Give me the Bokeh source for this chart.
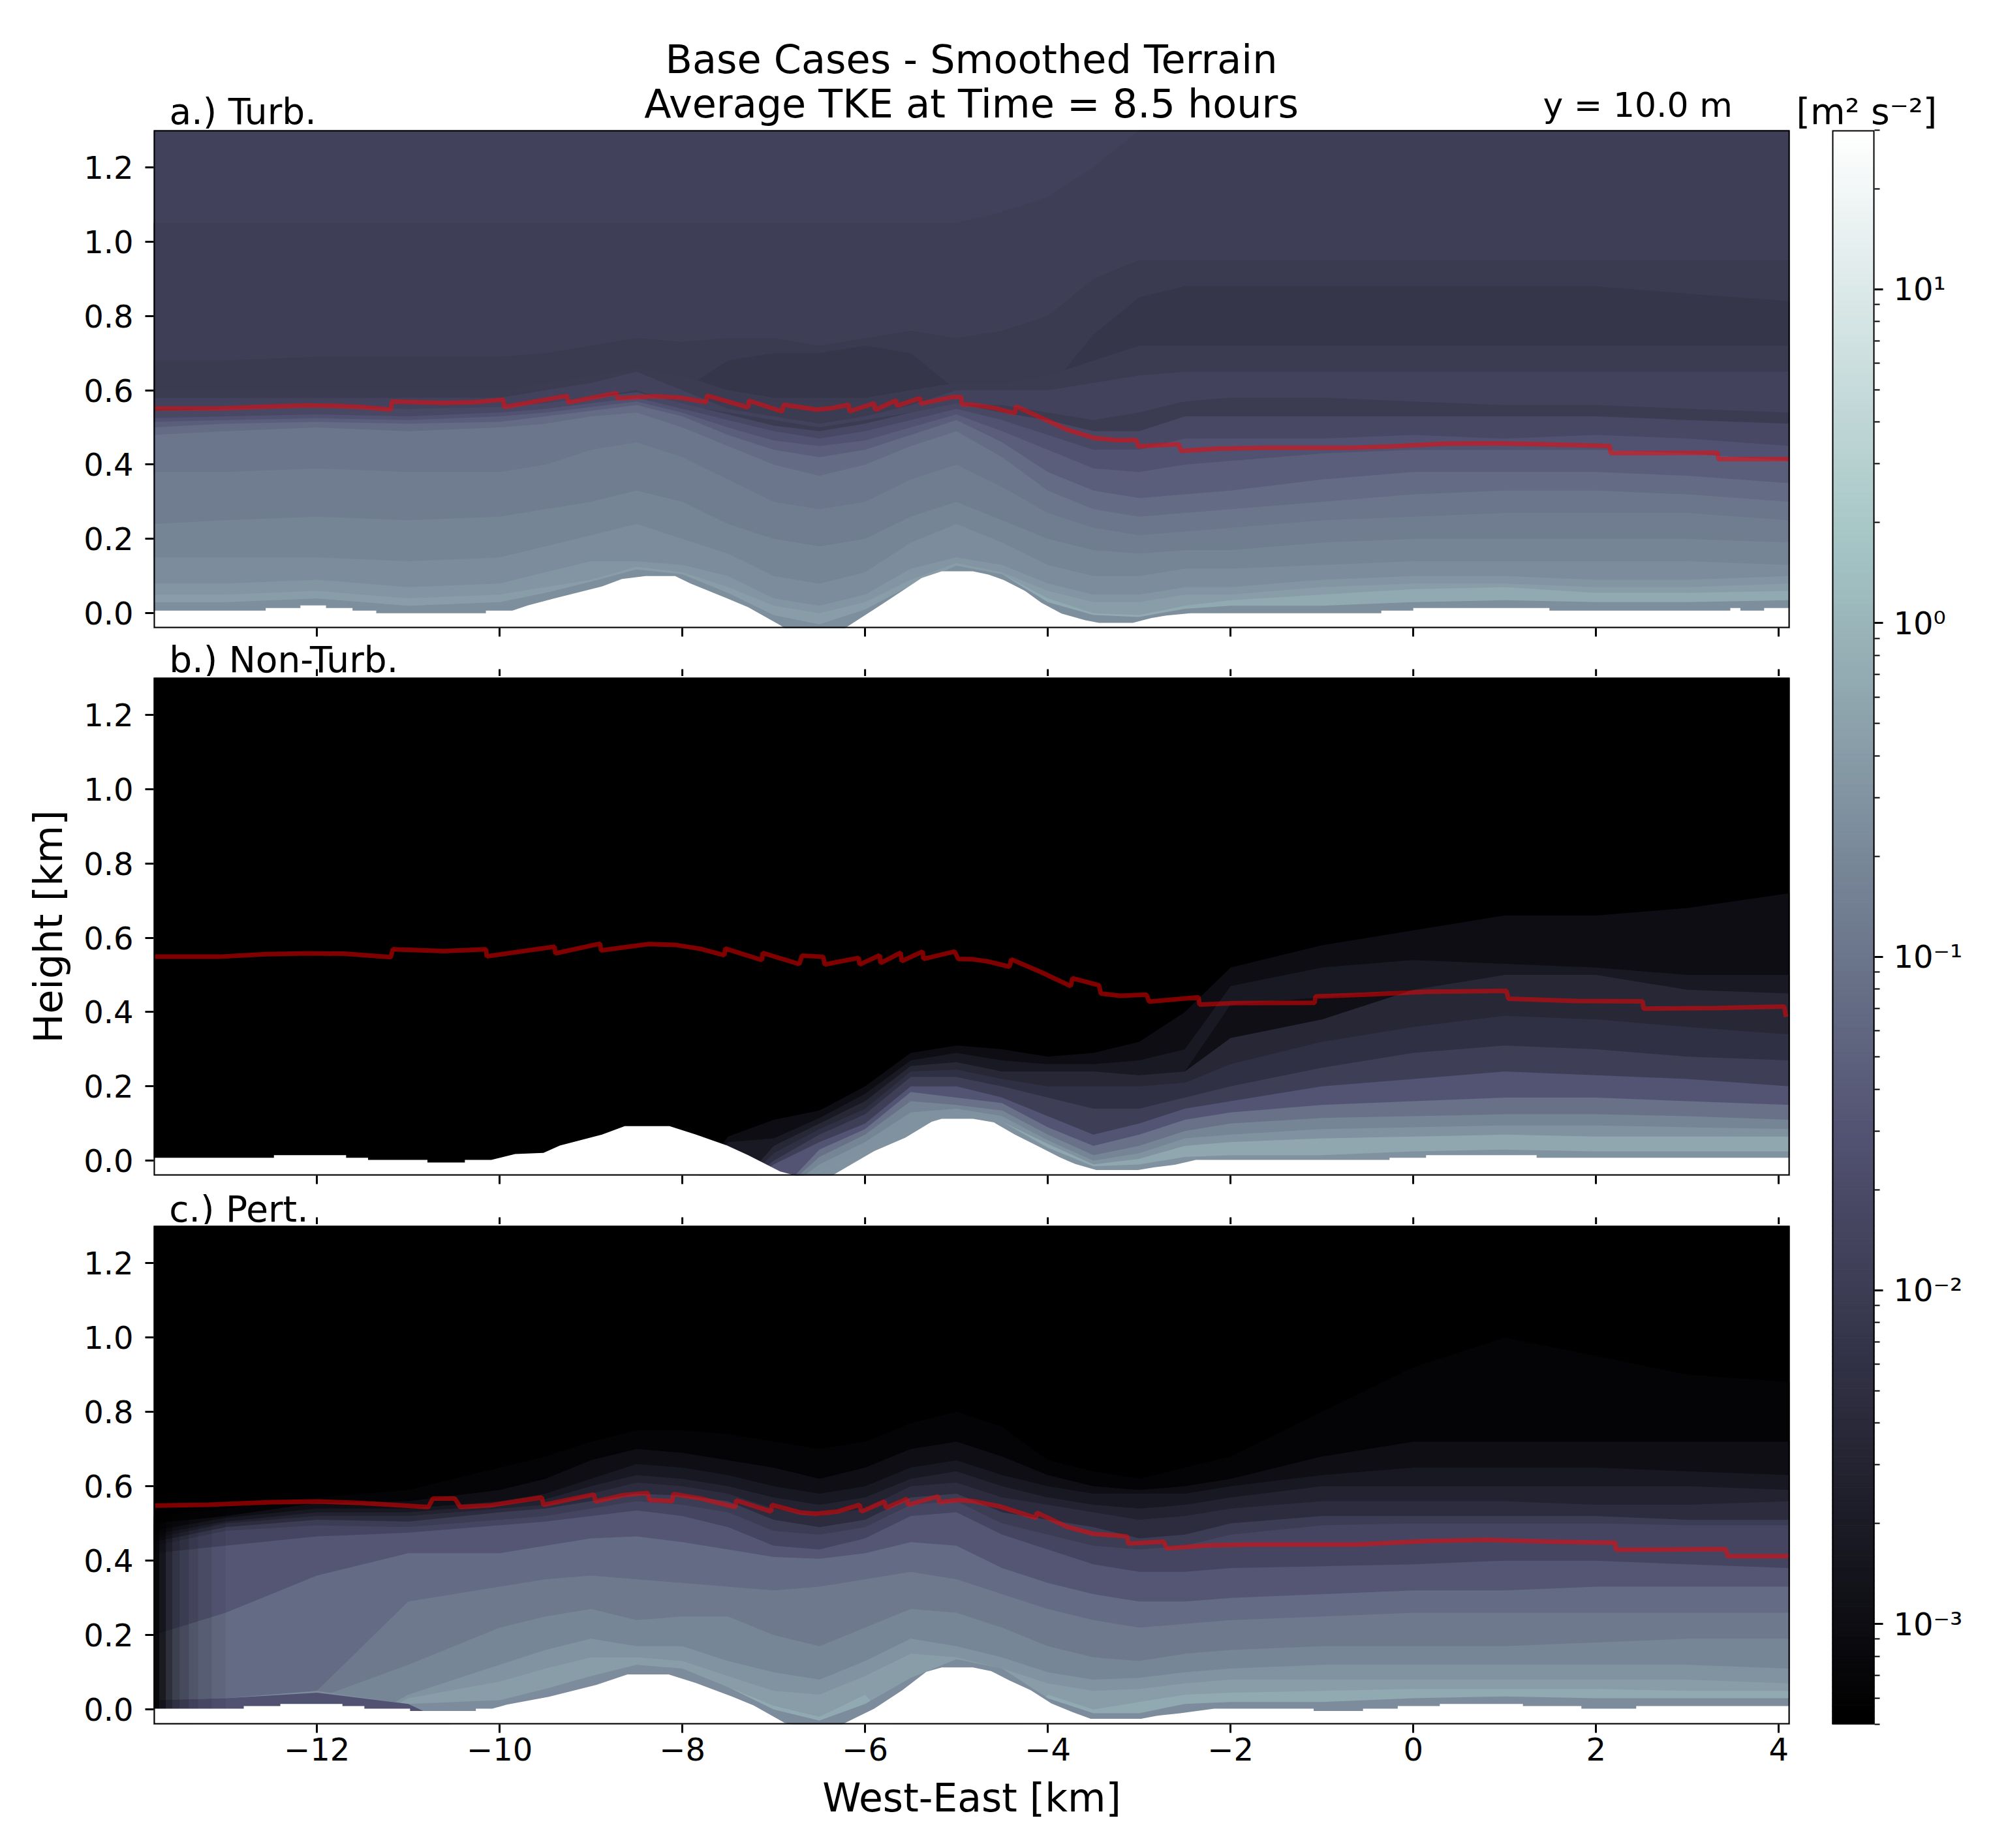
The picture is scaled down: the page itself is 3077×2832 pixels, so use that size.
from bokeh.plotting import figure
from bokeh.layouts import row, column
from bokeh.models import FixedTicker, PrintfTickFormatter, BasicTickFormatter, BoxAnnotation
from bokeh.core.properties import value
from bokeh.embed import file_html
from bokeh.resources import INLINE
import math
import numpy as np

TITLE1 = "Base Cases - Smoothed Terrain"
TITLE2 = "Average TKE at Time = 8.5 hours"
XTICKS = [-12, -10, -8, -6, -4, -2, 0, 2, 4]
YTICKS = [0.0, 0.2, 0.4, 0.6, 0.8, 1.0, 1.2]
CB_MAJOR = [1e-3, 1e-2, 1e-1, 1e0, 1e1]
CB_LABELS = ["10\u207b\u00b3", "10\u207b\u00b2", "10\u207b\u00b9", "10\u2070", "10\u00b9"]
VMIN, VMAX = 5e-4, 30.0

# the "bone" colour map: anchor stops per channel
_t = np.linspace(0, 1, 256)
_r = np.interp(_t, [0, .746032, 1], [0, .652778, 1])
_g = np.interp(_t, [0, .365079, .746032, 1], [0, .319444, .777778, 1])
_b = np.interp(_t, [0, .365079, 1], [0, .444444, 1])
BONE = ["#%02x%02x%02x" % (int(a * 255), int(b * 255), int(c * 255)) for a, b, c in zip(_r, _g, _b)]

# stations of the field tables (km)
XS = [-13.79, -13, -12, -11, -10, -9.5, -9, -8.5, -8, -7.5, -7, -6.5, -6, -5.5, -5, -4.5, -4, -3.5,
      -3, -2.5, -2, -1, 0, 1, 2, 3, 4.12]

# Panel a: (log10 TKE of the layer, ceiling height of that layer at each station), drawn top-down
A_BG = -1.9
A_VALUES = [-1.96, -2.05, -2.14, -2.02, -1.88, -2.03, -1.75, -1.55, -1.35, -1.15, -1.0, -0.88, -0.76, -0.64, -0.5, -0.38, -0.2, -0.6]
A_CEILS = [
 [1.05,1.05,1.05,1.05,1.05,1.05,1.05,1.05,1.05,1.05,1.05,1.05,1.05,1.05,1.05,1.08,1.12,1.2,1.3,1.3,1.3,1.3,1.3,1.3,1.3,1.3,1.3],
 [.68,.68,.69,.69,.69,.7,.72,.74,.73,.74,.74,.72,.74,.76,.74,.76,.8,.9,.95,.95,.95,.95,.95,.95,.95,.95,.95],
 [.55,.55,.55,.55,.55,.55,.56,.58,.6,.68,.7,.7,.72,.7,.6,.55,.6,.75,.85,.88,.88,.88,.88,.88,.88,.86,.84],
 [.6,.6,.6,.6,.6,.62,.64,.66,.64,.6,.58,.58,.58,.6,.62,.62,.64,.68,.72,.72,.72,.72,.72,.72,.72,.72,.72],
 [.58,.58,.58,.58,.58,.6,.62,.65,.6,.55,.53,.51,.53,.56,.6,.6,.6,.62,.64,.65,.65,.65,.65,.65,.65,.65,.65],
 [.55,.55,.55,.55,.55,.56,.58,.6,.56,.54,.52,.5,.52,.54,.56,.56,.54,.52,.54,.57,.58,.58,.57,.56,.56,.55,.54],
 [.545,.55,.555,.55,.555,.565,.58,.595,.565,.535,.505,.49,.51,.54,.565,.54,.52,.49,.49,.53,.53,.53,.53,.53,.53,.52,.51],
 [.525,.53,.535,.53,.54,.55,.565,.58,.55,.52,.49,.47,.49,.52,.55,.52,.48,.44,.44,.47,.47,.47,.48,.47,.48,.47,.45],
 [.515,.52,.525,.52,.53,.54,.555,.57,.54,.5,.465,.45,.465,.5,.535,.49,.44,.39,.38,.4,.41,.43,.44,.44,.44,.43,.41],
 [.5,.51,.515,.51,.515,.53,.545,.56,.53,.48,.44,.42,.44,.48,.52,.46,.38,.33,.31,.32,.33,.36,.38,.38,.38,.37,.35],
 [.48,.49,.5,.49,.5,.51,.53,.54,.5,.45,.4,.37,.4,.45,.49,.42,.33,.28,.26,.27,.28,.3,.32,.33,.33,.32,.3],
 [.38,.38,.39,.38,.38,.4,.44,.46,.42,.36,.3,.28,.3,.36,.4,.34,.27,.23,.21,.22,.23,.25,.26,.27,.27,.27,.25],
 [.24,.25,.26,.25,.26,.28,.3,.33,.3,.24,.2,.18,.2,.26,.3,.25,.2,.17,.16,.17,.17,.19,.2,.2,.2,.2,.19],
 [.15,.15,.15,.14,.15,.18,.21,.24,.2,.16,.1,.08,.11,.19,.24,.19,.13,.1,.1,.12,.12,.13,.14,.14,.14,.14,.13],
 [.08,.08,.09,.07,.08,.11,.14,.14,.13,.1,.04,.02,.05,.12,.15,.13,.08,.05,.05,.07,.07,.09,.1,.1,.09,.09,.1],
 [.05,.05,.06,.04,.05,.07,.09,.125,.11,.07,.02,.0,.03,.09,.135,.11,.06,.03,.03,.05,.05,.07,.08,.08,.07,.07,.08],
 [.03,.03,.04,.02,.03,.055,.085,.118,.105,.055,-.005,-.03,.01,.075,.128,.105,.04,0,-.005,.02,.035,.05,.065,.07,.055,.055,.06],
 [.03,.03,.04,.02,.03,.055,.085,.118,.105,.055,-.005,-.03,.01,.075,.128,.105,.03,-.005,-.01,.012,.02,.02,.03,.035,.03,.03,.035],
]

# Panel b
B_BG = -3.5
B_VALUES = [-3.0, -2.75, -2.95, -2.45, -2.25, -1.95, -1.5, -1.05, -0.75, -0.55, -0.22, -0.55]
B_CEILS = [
 [-.1]*9 + [.065,.11,.135,.2,.29,.31,.3,.28,.29,.32,.4,.52,.58,.62,.66,.66,.68,.72],
 [-.1]*9 + [.05,.06,.115,.18,.27,.29,.27,.26,.26,.27,.3,.47,.52,.54,.53,.52,.5,.5],
 [-.1]*19 + [.24,.42,.44,.46,-.1,-.1,-.1,-.1],
 [-.1]*10 + [.04,.1,.16,.255,.265,.24,.24,.24,.23,.24,.33,.38,.46,.5,.5,.46,.45],
 [-.1]*10 + [.02,.085,.14,.24,.245,.22,.2,.2,.2,.21,.26,.32,.36,.39,.38,.36,.34],
 [-.1]*10 + [.0,.07,.125,.225,.225,.2,.17,.14,.14,.17,.2,.25,.29,.31,.3,.28,.27],
 [-.1]*10 + [-.01,.05,.1,.2,.2,.17,.12,.07,.1,.14,.16,.2,.22,.24,.23,.22,.2],
 [-.1]*11 + [.03,.085,.185,.17,.155,.09,.04,.07,.11,.13,.15,.16,.17,.17,.16,.15],
 [-.1]*11 + [.01,.07,.16,.15,.135,.07,.015,.04,.08,.1,.115,.12,.125,.125,.12,.11],
 [-.1]*11 + [-.01,.05,.13,.14,.12,.055,0,.02,.06,.07,.085,.09,.095,.095,.09,.085],
 [-.1]*11 + [-.03,.02,.08,.13,.105,.045,-.01,.005,.04,.05,.06,.065,.07,.065,.065,.065],
 [-.1]*11 + [-.03,.02,.08,.13,.105,.035,-.015,-.01,.01,.015,.015,.025,.03,.025,.025,.025],
]

# Panel c
C_BG = -3.5
C_VALUES = [-3.2, -2.98, -2.76, -2.55, -2.34, -2.0, -1.8, -1.48, -1.15, -0.94, -0.73, -0.52, -0.38, -0.2, -0.65, -1.55]
C_CEILS = [
 [.52,.54,.57,.59,.65,.68,.72,.75,.75,.74,.72,.70,.72,.77,.8,.76,.67,.64,.62,.65,.68,.8,.92,1.0,.95,.9,.88],
 [.5,.52,.555,.56,.59,.62,.67,.7,.69,.67,.65,.62,.65,.7,.72,.68,.63,.6,.59,.6,.62,.68,.72,.72,.72,.72,.72],
 [.48,.515,.54,.54,.56,.58,.62,.66,.65,.63,.6,.58,.6,.65,.67,.63,.6,.58,.58,.58,.6,.63,.65,.65,.65,.64,.63],
 [.47,.505,.53,.53,.55,.565,.6,.63,.62,.6,.57,.55,.57,.62,.64,.6,.57,.55,.54,.55,.57,.6,.6,.6,.6,.6,.59],
 [.46,.5,.52,.52,.54,.55,.58,.61,.6,.58,.54,.52,.54,.6,.61,.57,.55,.53,.51,.52,.54,.56,.56,.56,.55,.55,.56],
 [.45,.49,.51,.505,.53,.54,.56,.58,.575,.56,.51,.49,.51,.57,.58,.53,.51,.49,.46,.47,.5,.52,.52,.52,.52,.51,.51],
 [.44,.48,.495,.49,.51,.52,.54,.56,.55,.53,.48,.47,.49,.55,.56,.5,.47,.44,.43,.44,.47,.495,.5,.5,.5,.495,.495],
 [.42,.44,.465,.475,.495,.505,.52,.535,.52,.49,.44,.43,.46,.52,.53,.47,.43,.39,.37,.37,.38,.385,.39,.4,.4,.39,.38],
 [.2,.26,.36,.42,.42,.44,.46,.465,.45,.43,.41,.405,.42,.45,.44,.38,.34,.31,.29,.29,.3,.31,.32,.32,.33,.33,.33],
 [-.1,-.1,.05,.29,.33,.35,.36,.35,.34,.33,.32,.33,.35,.37,.35,.31,.27,.24,.22,.23,.24,.25,.26,.26,.26,.26,.26],
 [-.1,-.1,.03,.12,.22,.25,.27,.24,.25,.25,.2,.17,.22,.27,.26,.22,.17,.14,.13,.15,.16,.17,.17,.17,.18,.19,.19],
 [-.1,-.1,-.1,.04,.12,.16,.19,.17,.17,.13,.1,.08,.13,.19,.17,.14,.1,.08,.085,.1,.11,.12,.12,.12,.12,.12,.11],
 [-.1,-.1,-.1,.03,.075,.11,.14,.14,.13,.09,.05,.04,.09,.15,.14,.11,.07,.05,.055,.07,.08,.08,.08,.08,.08,.08,.07],
 [-.1,-.1,-.1,-.1,-.1,-.1,-.1,-.1,-.1,.06,.01,-.02,.04,-.1,-.1,-.1,.04,0,.02,.04,.045,.05,.055,.055,.055,.05,.05],
 [.025,.03,.05,.015,.025,.055,.09,.12,.11,.06,.0,-.03,.015,.085,.135,.11,.03,-.01,-.01,.015,.02,.02,.03,.035,.03,.03,.03],
 [.025,.03,.045,.015,-.1,-.1,-.1,-.1,-.1,-.1,-.1,-.1,-.1,-.1,-.1,-.1,-.1,-.1,-.1,-.1,-.1,-.1,-.1,-.1,-.1,-.1,-.1],
]
# dark fade at the inflow edge of panel c
C_FADE_X = [-13.79, -13.72, -13.65, -13.58, -13.5, -13.4, -13.3, -13.15, -13.0]
C_FADE_ALPHA = [.9, .75, .55, .4, .3, .2, .12, .05]

# Terrain edge of each panel
TERR_A_X = [-13.79,-12.56,-12.56,-12.18,-12.18,-11.9,-11.9,-11.61,-11.61,-11.35,-11.35,-10.15,-10.15,-9.86,-9.69,-9.4,-8.88,-8.66,-8.4,-8.08,-7.91,-7.51,-7.28,-6.93,-6.85,-6.25,-5.79,-5.38,-5.16,-4.82,-4.65,-4.48,-4.25,-4.07,-3.85,-3.59,-3.44,-3.07,-2.87,-2.7,-2.44,-.35,-.35,0,0,1.49,1.49,3.47,3.47,3.58,3.58,3.84,3.84,4.12]
TERR_A_Y = [.007,.007,.014,.014,.021,.021,.014,.014,.007,.007,0,0,.007,.007,.021,.04,.072,.092,.1,.1,.08,.04,.016,-.032,-.045,-.045,.028,.095,.113,.113,.104,.089,.06,.028,-.001,-.019,-.026,-.026,-.013,-.006,0,0,.007,.007,.014,.014,.007,.007,.014,.014,.007,.007,.014,.014]
TERR_B_X = [-13.79,-12.47,-12.47,-11.68,-11.68,-11.44,-11.44,-10.79,-10.79,-10.38,-10.38,-10.09,-9.83,-9.52,-9.34,-8.88,-8.63,-8.14,-7.85,-7.51,-7.28,-6.93,-6.76,-6.36,-5.9,-5.56,-5.27,-5.16,-4.82,-4.59,-4.36,-4.1,-3.87,-3.7,-3.47,-3.01,-2.84,-2.61,-2.38,-.26,-.26,.14,.14,1.35,1.35,4.12]
TERR_B_Y = [.008,.008,.015,.015,.008,.008,.002,.002,-.005,-.005,.002,.002,.018,.021,.041,.07,.093,.093,.07,.041,.015,-.029,-.04,-.04,.026,.062,.105,.113,.113,.103,.07,.038,.009,-.009,-.025,-.025,-.018,-.011,.002,.002,.008,.008,.015,.015,.008,.008]
TERR_C_X = [-13.79,-12.8,-12.8,-12.4,-12.4,-11.72,-11.72,-11.48,-11.48,-10.98,-10.98,-10.26,-10.26,-10.08,-9.92,-9.46,-8.94,-8.6,-8.15,-7.85,-7.45,-7.22,-6.88,-6.79,-6.25,-5.9,-5.59,-5.33,-5.16,-4.82,-4.62,-4.42,-4.19,-3.96,-3.73,-3.53,-2.98,-2.81,-2.55,-2.18,-1.09,-1.09,-.55,-.55,-.17,-.17,.29,.29,1.2,1.2,1.84,1.84,2.44,2.44,4.12]
TERR_C_Y = [.002,.002,.009,.009,.015,.015,.009,.009,.002,.002,-.004,-.004,.002,.002,.013,.034,.066,.094,.094,.071,.034,.011,-.036,-.04,-.04,.002,.052,.101,.113,.113,.103,.078,.052,.016,-.007,-.025,-.025,-.017,-.01,.002,.002,-.004,-.004,.002,.002,.009,.009,.015,.015,.009,.009,.002,.002,.009,.009]

# Boundary-layer height (red line) of each panel
LINE_A_X = [-13.77,-13.07,-12.67,-12.1,-11.81,-11.52,-11.19,-11.18,-10.61,-10.26,-9.96,-9.95,-9.26,-9.25,-8.72,-8.71,-8.31,-8.02,-7.74,-7.73,-7.28,-7.27,-6.91,-6.89,-6.53,-6.36,-6.18,-6.17,-5.9,-5.89,-5.66,-5.65,-5.4,-5.39,-5.04,-4.95,-4.94,-4.82,-4.59,-4.36,-4.35,-4.07,-3.79,-3.5,-3.27,-3.03,-3.01,-2.57,-2.54,-2.12,-1.61,-.69,-.23,.34,.92,1.38,2.15,2.16,2.64,3.33,3.34,4.12]
LINE_A_Y = [.551,.551,.555,.5595,.558,.555,.548,.570,.566,.568,.575,.555,.585,.567,.593,.578,.584,.580,.568,.586,.554,.572,.543,.561,.548,.552,.561,.543,.565,.547,.573,.558,.579,.564,.582,.582,.562,.561,.5525,.538,.557,.526,.494,.472,.466,.466,.449,.455,.437,.443,.445,.445,.449,.456,.457,.455,.450,.431,.431,.432,.415,.415]
LINE_B_X = [-13.77,-13.07,-12.56,-12.1,-11.7,-11.19,-11.17,-10.61,-10.15,-10.14,-9.4,-9.39,-8.9,-8.89,-8.37,-8.08,-7.8,-7.54,-7.53,-7.13,-7.12,-6.72,-6.69,-6.46,-6.44,-6.07,-6.06,-5.84,-5.83,-5.61,-5.6,-5.37,-5.36,-5.02,-4.98,-4.82,-4.65,-4.42,-4.4,-4.07,-3.75,-3.73,-3.44,-3.42,-3.21,-2.92,-2.89,-2.35,-2.34,-1.95,-1.08,-1.07,-.52,.17,1.02,1.04,1.78,2.51,2.52,3.33,4.06,4.08]
LINE_B_Y = [.549,.549,.556,.558,.557,.548,.569,.564,.569,.550,.576,.558,.584,.566,.583,.581,.570,.553,.571,.540,.559,.529,.552,.549,.528,.546,.528,.553,.532,.560,.537,.563,.543,.563,.543,.542,.536,.522,.542,.507,.470,.491,.472,.450,.444,.447,.428,.440,.420,.424,.425,.442,.447,.455,.457,.436,.430,.429,.409,.411,.415,.387]
LINE_C_X = [-13.77,-13.19,-12.5,-11.98,-11.52,-10.78,-10.73,-10.49,-10.43,-10.09,-9.54,-9.52,-8.97,-8.95,-8.65,-8.38,-8.36,-8.11,-8.1,-7.8,-7.42,-7.41,-7.03,-7.02,-6.7,-6.53,-6.3,-6.06,-6.04,-5.79,-5.77,-5.54,-5.53,-5.2,-5.19,-4.98,-4.82,-4.53,-4.13,-4.12,-3.79,-3.5,-3.13,-3.12,-2.73,-2.7,-2.24,-1.78,-.63,.17,.8,1.49,2.21,2.22,2.87,3.42,3.44,4.12]
LINE_C_Y = [.548,.55,.557,.559,.555,.544,.567,.567,.544,.549,.57,.55,.578,.559,.576,.582,.563,.56,.579,.567,.544,.562,.532,.55,.529,.526,.532,.55,.532,.559,.542,.566,.55,.573,.557,.563,.56,.546,.515,.529,.491,.472,.465,.446,.451,.433,.441,.443,.443,.453,.456,.451,.448,.429,.43,.431,.412,.412]

FONT = "DejaVu Sans"
LOW, HIGH = math.log10(VMIN), math.log10(VMAX)
XMIN, XMAX, YMIN, YMAX = -13.786, 4.12, -0.04, 1.30


def col(v):
    i = int((v - LOW) / (HIGH - LOW) * 256)
    return BONE[max(0, min(255, i))]


def style(ax):
    ax.axis_line_color = None
    ax.major_tick_line_color = "black"
    ax.major_tick_line_width = 3
    ax.major_tick_in = 0
    ax.major_tick_out = 13
    ax.minor_tick_line_color = None


def panel(bg, values, ceils, tx, ty, lx, ly, fh, bottom, show_x=False, fade=False, ylabel=None):
    p = figure(frame_width=2507, frame_height=fh, min_border_left=235, min_border_right=38,
               min_border_top=2, min_border_bottom=bottom, x_range=(XMIN, XMAX), y_range=(YMIN, YMAX),
               output_backend="svg", toolbar_location=None, background_fill_color=col(bg),
               border_fill_color="white", tools="")
    p.grid.visible = False
    p.outline_line_color = None
    for v, c in zip(values, ceils):
        p.varea(XS, [YMIN - 0.2] * len(XS), c, fill_color=col(v), fill_alpha=1)
    if fade:
        p.quad(left=C_FADE_X[:-1], right=C_FADE_X[1:], bottom=[YMIN] * 8, top=[0.6] * 8,
               fill_color="black", fill_alpha=C_FADE_ALPHA, line_color=None)
    p.varea(tx, [YMIN - 0.2] * len(tx), ty, fill_color="white", fill_alpha=1)
    p.line(lx, ly, line_color="red", line_alpha=0.5, line_width=7)
    p.add_layout(BoxAnnotation(fill_alpha=0, line_color="black", line_width=4, line_alpha=1, level="overlay"))
    xa = p.xaxis[0]
    style(xa)
    xa.ticker = FixedTicker(ticks=XTICKS)
    if show_x:
        xa.major_label_overrides = {t: (("\u2212" + str(-t)) if t < 0 else str(t)) for t in XTICKS}
        xa.major_label_text_font = FONT
        xa.major_label_text_font_size = "48px"
        xa.major_label_text_color = "black"
        xa.major_label_standoff = 7
        xa.axis_label = "West-East [km]"
        xa.axis_label_text_font = FONT
        xa.axis_label_text_font_size = "60px"
        xa.axis_label_text_font_style = "normal"
        xa.axis_label_text_color = "black"
        xa.axis_label_standoff = 19
    else:
        xa.major_label_text_font_size = "0px"
        xa.major_label_overrides = {t: "" for t in XTICKS}
    ya = p.yaxis[0]
    style(ya)
    ya.ticker = FixedTicker(ticks=YTICKS)
    ya.formatter = PrintfTickFormatter(format="%.1f")
    ya.major_label_text_font = FONT
    ya.major_label_text_font_size = "48px"
    ya.major_label_text_color = "black"
    ya.major_label_standoff = 18
    if ylabel:
        ya.axis_label = ylabel
        ya.axis_label_text_font = FONT
        ya.axis_label_text_font_size = "60px"
        ya.axis_label_text_font_style = "normal"
        ya.axis_label_text_color = "black"
        ya.axis_label_standoff = 16
    return p


def strip(height, text, base):
    s = figure(frame_width=2507, frame_height=height, min_border_left=235, min_border_right=38,
               min_border_top=0, min_border_bottom=0, x_range=(XMIN, XMAX), y_range=(0, height),
               x_axis_type=None, y_axis_type=None, output_backend="svg", toolbar_location=None, tools="")
    s.grid.visible = False
    s.outline_line_color = None
    s.segment(XTICKS, [0] * len(XTICKS), XTICKS, [11] * len(XTICKS), line_color="black", line_width=3)
    s.text([XMIN + 0.17], [base], text=[text], text_font=value(FONT), text_font_size=value("55px"),
           text_baseline="alphabetic", text_color="black")
    return s


pa = panel(A_BG, A_VALUES, A_CEILS, TERR_A_X, TERR_A_Y, LINE_A_X, LINE_A_Y, 763, 16)
pb = panel(B_BG, B_VALUES, B_CEILS, TERR_B_X, TERR_B_Y, LINE_B_X, LINE_B_Y, 763, 16, ylabel="Height [km]")
pc = panel(C_BG, C_VALUES, C_CEILS, TERR_C_X, TERR_C_Y, LINE_C_X, LINE_C_Y, 764, 170, show_x=True, fade=True)
s1 = strip(58, "b.) Non-Turb.", 26)
s2 = strip(59, "c.) Pert.", 24)

# header with the titles and the small labels
head = figure(frame_width=3069, frame_height=197, min_border_left=0, min_border_right=0, min_border_top=0,
              min_border_bottom=0, x_range=(0, 3069), y_range=(0, 197), x_axis_type=None, y_axis_type=None,
              output_backend="svg", toolbar_location=None, tools="")
head.grid.visible = False
head.outline_line_color = None
for txt, x, y, size, align in [(TITLE1, 1488, 107, "60.4px", "center"), (TITLE2, 1488, 39, "60.4px", "center"),
                               ("a.) Turb.", 259, 27, "55px", "left"), ("y = 10.0 m", 2364, 37, "52px", "left"),
                               ("[m\u00b2 s\u207b\u00b2]", 2752, 27, "55px", "left")]:
    head.text([x], [y], text=[txt], text_font=value(FONT), text_font_size=value(size), text_align=align,
              text_baseline="alphabetic", text_color="black")

# colour bar
edges = [VMIN * (VMAX / VMIN) ** (i / 256) for i in range(257)]
cb = figure(frame_width=65, frame_height=2443, min_border_left=27, min_border_right=197,
            min_border_top=2, min_border_bottom=170, x_range=(0, 1), y_range=(VMIN, VMAX),
            y_axis_type="log", y_axis_location="right", x_axis_type=None,
            output_backend="svg", toolbar_location=None, tools="")
cb.grid.visible = False
cb.outline_line_color = None
cb.quad(left=0, right=1, bottom=edges[:-1], top=edges[1:], fill_color=BONE, line_color=BONE)
cb.add_layout(BoxAnnotation(fill_alpha=0, line_color="black", line_width=4, line_alpha=1, level="overlay"))
cax = cb.yaxis[0]
minors = [m * 10.0 ** e for e in range(-4, 2) for m in range(2, 10)]
minors = [round(m, 6) for m in minors if VMIN <= m <= VMAX]
cax.ticker = FixedTicker(ticks=CB_MAJOR, minor_ticks=minors)
cax.formatter = BasicTickFormatter()
cax.major_label_overrides = dict(zip(CB_MAJOR, CB_LABELS))
cax.major_label_text_font = FONT
cax.major_label_text_font_size = "48px"
cax.major_label_text_color = "black"
cax.major_label_standoff = 16
cax.axis_line_color = None
cax.major_tick_line_color = "black"
cax.major_tick_line_width = 3
cax.major_tick_in = 0
cax.major_tick_out = 13
cax.minor_tick_line_color = "black"
cax.minor_tick_line_width = 2
cax.minor_tick_in = 0
cax.minor_tick_out = 8

layout = column(head, row(column(pa, s1, pb, s2, pc, spacing=0), cb, spacing=0), spacing=0)
open("out.html", "w").write(file_html(layout, INLINE))
